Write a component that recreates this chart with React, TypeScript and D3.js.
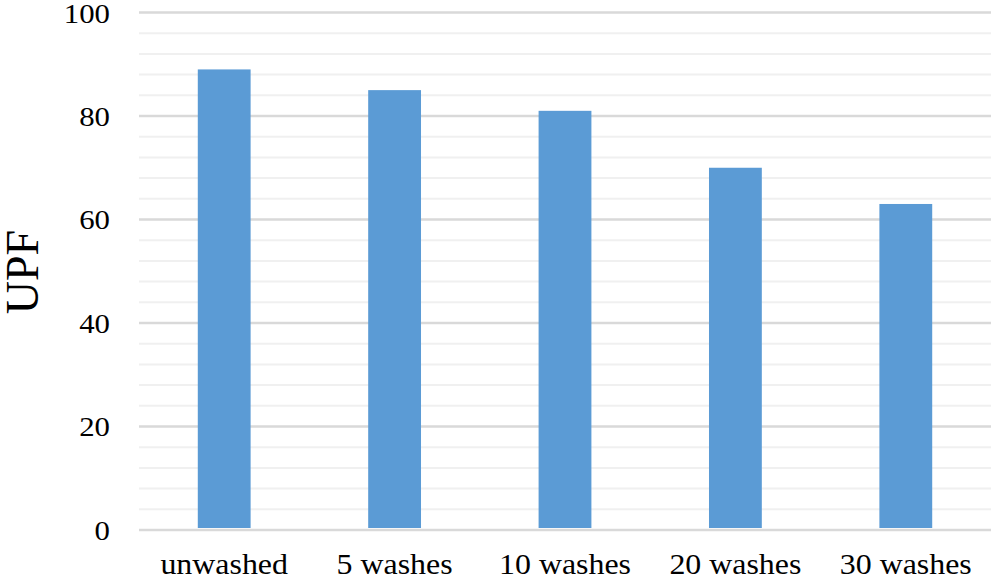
import React from "react";
import * as d3 from "d3";

const categories = ["unwashed", "5 washes", "10 washes", "20 washes", "30 washes"];
const upfValues = [89, 85, 81, 70, 63];
const majorTicks = [0, 20, 40, 60, 80, 100];
const minorTicks = [4, 8, 12, 16, 24, 28, 32, 36, 44, 48, 52, 56, 64, 68, 72, 76, 84, 88, 92, 96];

const width = 991;
const height = 581;
const margin = { top: 12.5, right: 0, bottom: 51, left: 139 };
const font = "'Liberation Serif', 'Times New Roman', serif";

export default function App() {
  const x = d3
    .scaleBand<string>()
    .domain(categories)
    .range([margin.left, width - margin.right])
    .paddingInner(0.69)
    .paddingOuter(0.345);

  const y = d3
    .scaleLinear()
    .domain([0, 100])
    .range([height - margin.bottom, margin.top]);

  return (
    <svg
      width={width}
      height={height}
      style={{ position: "absolute", left: 0, top: 0, background: "#fff" }}
    >
      {/* minor gridlines */}
      {minorTicks.map(t => (
        <line key={"m" + t} x1={margin.left} x2={width - margin.right} y1={y(t)} y2={y(t)} stroke="#f0f0f0" strokeWidth={2} />
      ))}
      {/* major gridlines */}
      {majorTicks.map(t => (
        <line key={"M" + t} x1={margin.left} x2={width - margin.right} y1={y(t)} y2={y(t)} stroke="#d9d9d9" strokeWidth={2.5} />
      ))}

      {categories.map((c, i) => (
        <rect
          key={c}
          x={x(c)}
          y={y(upfValues[i])}
          width={x.bandwidth()}
          height={y(0) - 2 - y(upfValues[i])}
          fill="#5b9bd5"
        />
      ))}

      {majorTicks.map(t => (
        <text
          key={"t" + t}
          x={110}
          y={y(t) + 10}
          textAnchor="end"
          fontFamily={font}
          fontSize={28}
          fill="#000"
          transform={`translate(110,0) scale(1.1,1) translate(-110,0)`}
        >
          {t}
        </text>
      ))}

      {categories.map(c => {
        const cx = (x(c) || 0) + x.bandwidth() / 2;
        return (
          <text
            key={"x" + c}
            x={cx}
            y={574}
            textAnchor="middle"
            fontFamily={font}
            fontSize={29}
            fill="#000"
            transform={`translate(${cx},0) scale(1.1,1) translate(${-cx},0)`}
          >
            {c}
          </text>
        );
      })}

      <text
        transform="translate(38,272) rotate(-90)"
        textAnchor="middle"
        fontFamily={font}
        fontSize={46}
        fill="#000"
      >
        UPF
      </text>
    </svg>
  );
}
